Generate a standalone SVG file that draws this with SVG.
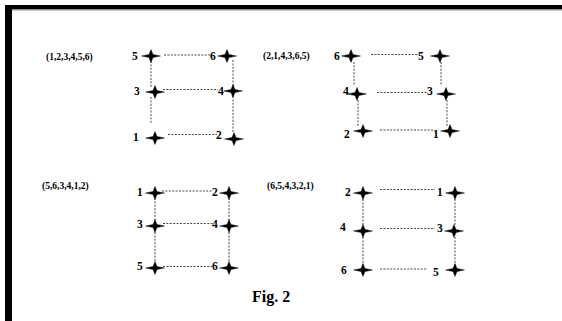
<svg xmlns="http://www.w3.org/2000/svg" xmlns:xlink="http://www.w3.org/1999/xlink" width="562" height="321" viewBox="0 0 562 321">
  <style>
    .lbl { font-family: "Liberation Serif", "Times New Roman", serif; font-weight: bold; font-size: 11.5px; fill: #000; }
    .tup { font-family: "Liberation Serif", "Times New Roman", serif; font-weight: bold; font-size: 9.5px; fill: #000; }
    .cap { font-family: "Liberation Serif", "Times New Roman", serif; font-weight: bold; font-size: 16px; fill: #000; }
    .dash { stroke: #333; stroke-width: 0.9; stroke-dasharray: 2 1.4; fill: none; }
  </style>
  <defs>
    <!-- four-pointed star marking a point -->
    <path id="star" d="M-9.5,0 L-2,-1.6 L0,-6.5 L2,-1.6 L9.5,0 L2,1.6 L0,6.5 L-2,1.6 Z" fill="#000" stroke="#000" stroke-width="0.4" stroke-linejoin="round"/>
  </defs>

  <rect width="562" height="321" fill="#fff"/>
  <!-- frame -->
  <rect x="5" y="5" width="557" height="4.5" fill="#000"/>
  <rect x="12" y="9.5" width="550" height="1" fill="#999"/>
  <rect x="5" y="5" width="7" height="316" fill="#000"/>

  <!-- connectors -->
  <g id="connectors">
    <!-- (1,2,3,4,5,6) -->
    <line class="dash" x1="164" y1="55" x2="212" y2="55"/>
    <line class="dash" x1="163" y1="89.5" x2="218" y2="89.5"/>
    <line class="dash" x1="168" y1="134.5" x2="217" y2="134.5"/>
    <line class="dash" x1="151" y1="61" x2="151" y2="87"/>
    <line class="dash" x1="151" y1="97" x2="151" y2="124"/>
    <line class="dash" x1="233" y1="60" x2="233" y2="86"/>
    <line class="dash" x1="233" y1="96" x2="233" y2="132"/>
    <!-- (2,1,4,3,6,5) -->
    <line class="dash" x1="371" y1="54.5" x2="420" y2="54.5"/>
    <line class="dash" x1="377" y1="92.5" x2="428" y2="92.5"/>
    <line class="dash" x1="380" y1="130" x2="435" y2="130"/>
    <line class="dash" x1="354" y1="62" x2="354" y2="86"/>
    <line class="dash" x1="358" y1="100" x2="358" y2="127"/>
    <line class="dash" x1="441" y1="62" x2="441" y2="86"/>
    <line class="dash" x1="447" y1="100" x2="447" y2="127"/>
    <!-- (5,6,3,4,1,2) -->
    <line class="dash" x1="162" y1="191" x2="212" y2="191"/>
    <line class="dash" x1="163" y1="223.5" x2="213" y2="223.5"/>
    <line class="dash" x1="163" y1="266.5" x2="212" y2="266.5"/>
    <line class="dash" x1="155" y1="198" x2="155" y2="221"/>
    <line class="dash" x1="155" y1="232" x2="155" y2="263"/>
    <line class="dash" x1="229" y1="198" x2="229" y2="221"/>
    <line class="dash" x1="229" y1="232" x2="229" y2="263"/>
    <!-- (6,5,4,3,2,1) -->
    <line class="dash" x1="380" y1="189.5" x2="435" y2="189.5"/>
    <line class="dash" x1="380" y1="228.5" x2="435" y2="228.5"/>
    <line class="dash" x1="380" y1="269" x2="427" y2="269"/>
    <line class="dash" x1="363" y1="199" x2="363" y2="225"/>
    <line class="dash" x1="363" y1="237" x2="363" y2="265"/>
    <line class="dash" x1="455" y1="199" x2="455" y2="225"/>
    <line class="dash" x1="455" y1="237" x2="455" y2="265"/>
  </g>

  <!-- tuple captions -->
  <text class="tup" x="46" y="60">(1,2,3,4,5,6)</text>
  <text class="tup" x="263" y="59">(2,1,4,3,6,5)</text>
  <text class="tup" x="42" y="189">(5,6,3,4,1,2)</text>
  <text class="tup" x="267" y="189">(6,5,4,3,2,1)</text>

  <!-- (1,2,3,4,5,6) -->
  <g id="p1-n5"><use xlink:href="#star" x="151" y="56"/><text class="lbl" x="132" y="60">5</text></g>
  <g id="p1-n6"><use xlink:href="#star" x="227" y="56"/><text class="lbl" x="210" y="60">6</text></g>
  <g id="p1-n3"><use xlink:href="#star" x="155" y="92"/><text class="lbl" x="134" y="95">3</text></g>
  <g id="p1-n4"><use xlink:href="#star" x="233" y="91"/><text class="lbl" x="218" y="95">4</text></g>
  <g id="p1-n1"><use xlink:href="#star" x="155" y="138"/><text class="lbl" x="133" y="141">1</text></g>
  <g id="p1-n2"><use xlink:href="#star" x="234" y="139"/><text class="lbl" x="216" y="139">2</text></g>

  <!-- (2,1,4,3,6,5) -->
  <g id="p2-n6"><use xlink:href="#star" x="351" y="56"/><text class="lbl" x="334" y="60">6</text></g>
  <g id="p2-n5"><use xlink:href="#star" x="440" y="56"/><text class="lbl" x="418" y="60">5</text></g>
  <g id="p2-n4"><use xlink:href="#star" x="357" y="94"/><text class="lbl" x="343" y="95">4</text></g>
  <g id="p2-n3"><use xlink:href="#star" x="446" y="94"/><text class="lbl" x="427" y="95">3</text></g>
  <g id="p2-n2"><use xlink:href="#star" x="363" y="131"/><text class="lbl" x="344" y="138">2</text></g>
  <g id="p2-n1"><use xlink:href="#star" x="450" y="131"/><text class="lbl" x="433" y="138">1</text></g>

  <!-- (5,6,3,4,1,2) -->
  <g id="p3-n1"><use xlink:href="#star" x="155" y="193"/><text class="lbl" x="137" y="196">1</text></g>
  <g id="p3-n2"><use xlink:href="#star" x="229" y="193"/><text class="lbl" x="212" y="196">2</text></g>
  <g id="p3-n3"><use xlink:href="#star" x="155" y="226"/><text class="lbl" x="137" y="228">3</text></g>
  <g id="p3-n4"><use xlink:href="#star" x="229" y="226"/><text class="lbl" x="212" y="228">4</text></g>
  <g id="p3-n5"><use xlink:href="#star" x="155" y="268"/><text class="lbl" x="137" y="270">5</text></g>
  <g id="p3-n6"><use xlink:href="#star" x="229" y="268"/><text class="lbl" x="212" y="270">6</text></g>

  <!-- (6,5,4,3,2,1) -->
  <g id="p4-n2"><use xlink:href="#star" x="363" y="193"/><text class="lbl" x="345" y="196">2</text></g>
  <g id="p4-n1"><use xlink:href="#star" x="455" y="193"/><text class="lbl" x="437" y="196">1</text></g>
  <g id="p4-n4"><use xlink:href="#star" x="363" y="231"/><text class="lbl" x="340" y="231">4</text></g>
  <g id="p4-n3"><use xlink:href="#star" x="454" y="231"/><text class="lbl" x="437" y="232">3</text></g>
  <g id="p4-n6"><use xlink:href="#star" x="363" y="270"/><text class="lbl" x="341" y="274">6</text></g>
  <g id="p4-n5"><use xlink:href="#star" x="455" y="270"/><text class="lbl" x="433" y="276">5</text></g>

  <text class="cap" x="252" y="302">Fig. 2</text>
</svg>
